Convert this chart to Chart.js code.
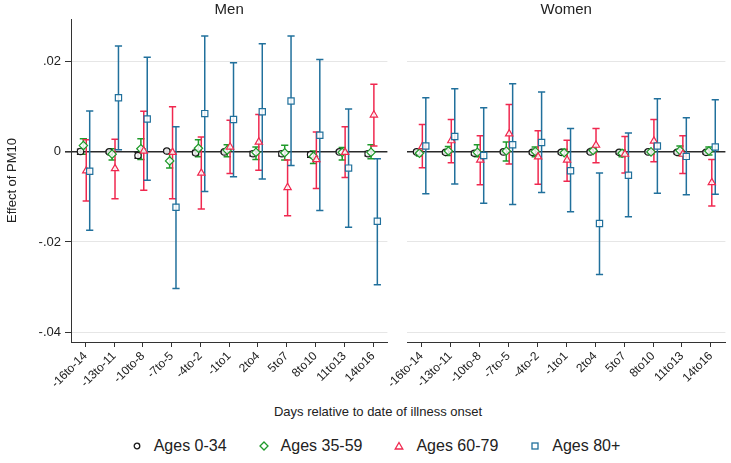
<!DOCTYPE html>
<html>
<head>
<meta charset="utf-8">
<script src="https://cdn.jsdelivr.net/npm/chart.js@4.4.1/dist/chart.umd.min.js"></script>
<style>
  html, body { margin: 0; padding: 0; background: #fff; }
  body { width: 731px; height: 463px; position: relative; overflow: hidden;
         font-family: "Liberation Sans", Arial, sans-serif; color: #222; }
  #menChart { position: absolute; left: 0; top: 0; }
  #womenChart { position: absolute; left: 377px; top: 0; }
  #xTitle { position: absolute; left: 0; top: 404px; width: 756px; text-align: center; font-size: 13px; }
  #legend { position: absolute; left: 0; top: 436px; width: 752px; display: flex; justify-content: center;
            font-size: 16px; line-height: 20px; }
  #legend .item { display: flex; align-items: center; margin: 0 16px; }
  #legend svg { margin-right: 12px; }
</style>
</head>
<body>
<canvas id="menChart" width="393" height="400"></canvas>
<canvas id="womenChart" width="354" height="400"></canvas>
<div id="xTitle">Days relative to date of illness onset</div>
<div id="legend"></div>
<script>
const cats = ['-16to-14','-13to-11','-10to-8','-7to-5','-4to-2','-1to1','2to4','5to7','8to10','11to13','14to16'];
const yTicks = [-0.04, -0.02, 0, 0.02];

// Men
const menEst0034 = [0.0001, 0.0000, -0.0008, 0.0002, -0.0002, 0.0000, -0.0004, -0.0004, -0.0006, 0.0000, -0.0004];
const menLo0034  = [-0.0005, -0.0003, -0.0014, -0.0001, -0.0006, -0.0003, -0.0009, -0.0009, -0.0012, -0.0003, -0.0009];
const menHi0034  = [0.0006, 0.0003, -0.0001, 0.0005, 0.0003, 0.0003, 0.0001, 0.0001, 0.0000, 0.0003, 0.0001];

const menEst3559 = [0.0014, -0.0005, 0.0007, -0.0020, 0.0008, 0.0004, -0.0001, -0.0002, -0.0010, -0.0001, -0.0001];
const menLo3559  = [-0.0005, -0.0018, -0.0017, -0.0036, -0.0011, -0.0011, -0.0017, -0.0018, -0.0026, -0.0018, -0.0015];
const menHi3559  = [0.0029, 0.0007, 0.0029, -0.0004, 0.0027, 0.0016, 0.0011, 0.0015, 0.0002, 0.0010, 0.0016];

const menEst6079 = [-0.0042, -0.0037, 0.0002, -0.0001, -0.0047, 0.0011, 0.0022, -0.0079, -0.0017, -0.0001, 0.0082];
const menLo6079  = [-0.0109, -0.0104, -0.0085, -0.0104, -0.0127, -0.0048, -0.0041, -0.0142, -0.0081, -0.0057, 0.0013];
const menHi6079  = [0.0027, 0.0028, 0.0090, 0.0100, 0.0033, 0.0070, 0.0083, -0.0018, 0.0044, 0.0056, 0.0150];

const menEst80 = [-0.0043, 0.0120, 0.0073, -0.0123, 0.0085, 0.0072, 0.0089, 0.0113, 0.0037, -0.0036, -0.0154];
const menLo80  = [-0.0174, 0.0005, -0.0063, -0.0303, -0.0088, -0.0055, -0.0060, -0.0030, -0.0130, -0.0167, -0.0295];
const menHi80  = [0.0091, 0.0235, 0.0210, 0.0056, 0.0257, 0.0198, 0.0240, 0.0257, 0.0205, 0.0095, -0.0015];

// Women
const womenEst0034 = [0.0000, -0.0001, -0.0003, 0.0000, -0.0001, -0.0001, 0.0000, -0.0001, 0.0000, -0.0001, -0.0001];
const womenLo0034  = [-0.0003, -0.0004, -0.0007, -0.0003, -0.0004, -0.0004, -0.0003, -0.0004, -0.0003, -0.0004, -0.0004];
const womenHi0034  = [0.0003, 0.0002, 0.0001, 0.0003, 0.0002, 0.0002, 0.0003, 0.0002, 0.0003, 0.0002, 0.0002];

const womenEst3559 = [-0.0003, 0.0002, -0.0001, 0.0002, 0.0001, -0.0002, 0.0003, -0.0003, 0.0000, 0.0003, 0.0002];
const womenLo3559  = [-0.0009, -0.0008, -0.0011, -0.0020, -0.0011, -0.0007, -0.0002, -0.0011, -0.0005, -0.0008, -0.0007];
const womenHi3559  = [0.0003, 0.0012, 0.0016, 0.0022, 0.0011, 0.0006, 0.0008, 0.0004, 0.0005, 0.0013, 0.0011];

const womenEst6079 = [0.0012, 0.0025, -0.0018, 0.0040, -0.0011, -0.0018, 0.0015, -0.0005, 0.0024, -0.0005, -0.0068];
const womenLo6079  = [-0.0035, -0.0024, -0.0073, -0.0027, -0.0072, -0.0065, -0.0024, -0.0047, -0.0022, -0.0048, -0.0120];
const womenHi6079  = [0.0061, 0.0072, 0.0036, 0.0105, 0.0047, 0.0026, 0.0052, 0.0034, 0.0072, 0.0036, -0.0017];

const womenEst80 = [0.0013, 0.0034, -0.0008, 0.0016, 0.0021, -0.0042, -0.0159, -0.0052, 0.0013, -0.0010, 0.0011];
const womenLo80  = [-0.0093, -0.0071, -0.0114, -0.0117, -0.0090, -0.0133, -0.0272, -0.0144, -0.0092, -0.0095, -0.0094];
const womenHi80  = [0.0120, 0.0140, 0.0098, 0.0151, 0.0133, 0.0052, -0.0047, 0.0042, 0.0118, 0.0076, 0.0116];

const series = [
  { label: 'Ages 0-34',  color: '#1a1a1a', style: 'circle',   r: 3.2, off: -0.17 },
  { label: 'Ages 35-59', color: '#1f9a2a', style: 'rectRot',  r: 4.2, off: -0.07 },
  { label: 'Ages 60-79', color: '#f0284f', style: 'triangle', r: 4.2, off: 0.03 },
  { label: 'Ages 80+',   color: '#21709c', style: 'rect',     r: 4.4, off: 0.15 }
];

const menData = [
  [menEst0034, menLo0034, menHi0034], [menEst3559, menLo3559, menHi3559],
  [menEst6079, menLo6079, menHi6079], [menEst80, menLo80, menHi80]
];
const womenData = [
  [womenEst0034, womenLo0034, womenHi0034], [womenEst3559, womenLo3559, womenHi3559],
  [womenEst6079, womenLo6079, womenHi6079], [womenEst80, womenLo80, womenHi80]
];

Chart.defaults.font.family = '"Liberation Sans", Arial, sans-serif';
Chart.defaults.color = '#222';

const fmt = v => v === 0 ? '0' : (v < 0 ? '-' : '') + String(Math.abs(v)).replace(/^0/, '');

function buildDatasets(data) {
  const sets = [];
  series.forEach((s, k) => {
    const [est, lo, hi] = data[k];
    // whiskers: pairs of (lo, hi) separated by a gap; caps drawn as 'line' points
    const bars = [];
    cats.forEach((c, i) => {
      bars.push({ x: i + s.off, y: lo[i] }, { x: i + s.off, y: hi[i] }, { x: i + s.off, y: null });
    });
    sets.push({
      label: s.label + ' CI', data: bars, showLine: true, spanGaps: false,
      borderColor: s.color, borderWidth: 1.5,
      pointStyle: 'line', pointRadius: 3.6, pointBorderColor: s.color, pointBorderWidth: 1.5,
      order: 8 - k
    });
    sets.push({
      label: s.label, data: est.map((v, i) => ({ x: i + s.off, y: v })),
      pointStyle: s.style, pointRadius: s.r, pointBorderColor: s.color, pointBorderWidth: 1.2,
      pointBackgroundColor: 'rgba(255,255,255,0.85)', showLine: false,
      order: 4 - k
    });
  });
  return sets;
}

function makePanel(id, title, data, isLeft) {
  const y = {
    min: -0.0422, max: 0.0295,
    afterBuildTicks: s => { s.ticks = yTicks.map(v => ({ value: v })); },
    afterFit: s => { s.width = isLeft ? 71 : 30; },
    grid: {
      color: c => c.tick && c.tick.value === 0 ? '#2a2a2a' : '#e6e6e6',
      lineWidth: c => c.tick && c.tick.value === 0 ? 1.6 : 1,
      drawTicks: isLeft, tickLength: 6, tickColor: '#333'
    },
    border: { display: isLeft, color: '#333', width: 1 },
    ticks: { display: isLeft, callback: fmt, font: { size: 13 }, padding: 4 },
    title: { display: isLeft, text: 'Effect of PM10', font: { size: 13 }, padding: { top: 5, bottom: 0 } }
  };
  return new Chart(document.getElementById(id), {
    type: 'scatter',
    data: { datasets: buildDatasets(data) },
    options: {
      responsive: false, animation: false, events: [],
      layout: { padding: 0 },
      plugins: {
        legend: { display: false },
        tooltip: { enabled: false },
        title: { display: true, text: title, fullSize: false, color: '#222',
                 font: { size: 15, weight: 'normal', lineHeight: 1.1 }, padding: { top: 1.5, bottom: 1 } }
      },
      scales: {
        x: {
          type: 'linear', min: -0.5, max: 10.5,
          afterBuildTicks: s => { s.ticks = cats.map((c, i) => ({ value: i })); },
          afterFit: s => { s.height = 58; },
          ticks: { callback: v => cats[v], autoSkip: false, minRotation: 45, maxRotation: 45,
                   font: { size: 12 }, padding: 2 },
          grid: { drawOnChartArea: false, tickLength: 5, tickColor: '#333' },
          border: { color: '#333', width: 1 }
        },
        y
      }
    }
  });
}

makePanel('menChart', 'Men', menData, true);
makePanel('womenChart', 'Women', womenData, false);

// legend built from the series list
const shapes = {
  circle:   c => `<circle cx="5" cy="5" r="2.8" fill="none" stroke="${c}" stroke-width="1.3"/>`,
  rectRot:  c => `<polygon points="5,1 9,5 5,9 1,5" fill="none" stroke="${c}" stroke-width="1.3"/>`,
  triangle: c => `<polygon points="5,1.5 8.8,8 1.2,8" fill="none" stroke="${c}" stroke-width="1.3"/>`,
  rect:     c => `<rect x="2" y="2" width="6" height="6" fill="none" stroke="${c}" stroke-width="1.3"/>`
};
document.getElementById('legend').innerHTML = series.map(s =>
  `<span class="item"><svg width="10" height="10">${shapes[s.style](s.color)}</svg>${s.label}</span>`
).join('');
</script>
</body>
</html>
